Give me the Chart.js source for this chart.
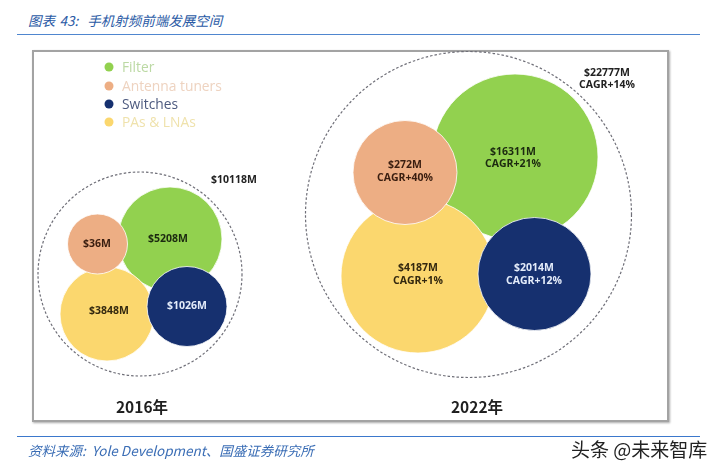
<!DOCTYPE html>
<html>
<head>
<meta charset="utf-8">
<script src="https://cdn.jsdelivr.net/npm/chart.js@4"></script>
<style>
body { margin: 0; background: #fff; width: 722px; height: 470px; overflow: hidden; position: relative; }
div, canvas { position: absolute; }
#title { left: 28px; top: 10px; font: italic 13.5px "Noto Sans CJK SC"; color: #2a5aa5; white-space: pre; word-spacing: 1.5px; }
#topRule { left: 17px; top: 34px; width: 683px; height: 1px; background: #4f86cf; }
#frame { left: 32px; top: 50px; width: 633px; height: 368px; border: 2px solid #a3a3a3; box-shadow: 1px 1px 2px #aaa; background: #fff; }
#chart { left: 0; top: 0; }
#bottomRule { left: 17px; top: 436px; width: 683px; height: 1px; background: #3b78cc; }
#source { left: 28px; top: 440px; font: italic 13.5px "Noto Sans CJK SC"; color: #3a6db5; white-space: pre; }
#mark { left: 571px; top: 435px; font: 19px "Noto Sans CJK SC"; color: #222; white-space: pre; text-shadow: 0 0 2px #fff; }
</style>
</head>
<body>
<div id="title">图表 43:  手机射频前端发展空间</div>
<div id="topRule"></div>
<div id="frame"></div>
<canvas id="chart" width="722" height="470"></canvas>
<div id="bottomRule"></div>
<div id="source">资料来源:  Yole Development、国盛证券研究所</div>
<div id="mark">头条 @未来智库</div>
<script>
const years = ['2016年', '2022年'];
const segments = ['Filter', 'Antenna tuners', 'Switches', 'PAs & LNAs'];

// values, 2016 then 2022 ($M)
const filterValues = [5208, 16311];
const tunerValues = [36, 272];
const switchValues = [1026, 2014];
const paValues = [3848, 4187];
const totalValues = [10118, 22777];

// CAGR, only printed for 2022
const filterCagr = [null, 21];
const tunerCagr = [null, 40];
const switchCagr = [null, 12];
const paCagr = [null, 1];
const totalCagr = [null, 14];

// bubble centres and radii
const filterX = [170, 515], filterY = [239, 157], filterR = [52, 83];
const tunerX = [97.5, 405], tunerY = [244, 172.5], tunerR = [30, 52];
const switchX = [187, 534.5], switchY = [306.5, 274], switchR = [40, 56.5];
const paX = [107, 418], paY = [314, 276], paR = [47, 77];
const totalX = [140, 468.5], totalY = [274, 214.5], totalR = [102, 163];

// where the text sits
const filterTextX = [168, 513], filterTextY = [239, 158.5];
const tunerTextX = [97, 405], tunerTextY = [244, 171.5];
const switchTextX = [187, 534], switchTextY = [306, 274.5];
const paTextX = [109, 418], paTextY = [311, 274.5];
const totalTextX = [234, 607], totalTextY = [180, 79];
const yearTextX = [142, 477], yearTextY = [407, 407];
const legendX = 109, legendY = [67, 86, 104, 122];

const colors = ['#92d14f', '#edae84', '#16306f', '#fbd76e'];
const legendTextColors = ['#bcd9a4', '#eed3c0', '#4d5a7f', '#efe2ac'];
const textColors = ['#1c2a10', '#3a1e10', '#e4ecfa', '#33280f'];

function bubbles(xs, ys, rs) {
    return xs.map((x, i) => ({ x: x, y: ys[i], r: rs[i] }));
}

function segmentDataset(i, xs, ys, rs) {
    return {
        label: segments[i],
        data: bubbles(xs, ys, rs),
        backgroundColor: colors[i],
        borderColor: 'rgba(255,255,255,0.8)',
        borderWidth: 1,
        clip: false
    };
}

// first dataset ends up on top
const datasets = [
    segmentDataset(2, switchX, switchY, switchR),
    segmentDataset(1, tunerX, tunerY, tunerR),
    segmentDataset(3, paX, paY, paR),
    segmentDataset(0, filterX, filterY, filterR),
    {
        label: 'Total',
        data: bubbles(totalX, totalY, totalR),
        backgroundColor: 'rgba(255,255,255,0)',
        borderColor: '#6f6f78',
        borderWidth: 1.2,
        clip: false
    }
];

const dashPlugin = {
    id: 'dash',
    beforeDatasetDraw(chart, args) {
        if (chart.data.datasets[args.index].label === 'Total') chart.ctx.setLineDash([2.5, 2]);
    },
    afterDatasetDraw(chart) {
        chart.ctx.setLineDash([]);
    }
};

function drawText(chart, lines, xVal, yVal, font, color, lineHeight) {
    const ctx = chart.ctx;
    const x = chart.scales.x.getPixelForValue(xVal);
    const y = chart.scales.y.getPixelForValue(yVal);
    ctx.font = font;
    ctx.fillStyle = color;
    ctx.textAlign = 'center';
    ctx.textBaseline = 'middle';
    lines.forEach((line, i) => {
        ctx.fillText(line, x, y + (i - (lines.length - 1) / 2) * lineHeight);
    });
}

function bubbleLines(value, cagr) {
    const lines = ['$' + value + 'M'];
    if (cagr !== null) lines.push('CAGR+' + cagr + '%');
    return lines;
}

const labelPlugin = {
    id: 'labels',
    afterDatasetsDraw(chart) {
        const ctx = chart.ctx;
        const font = 'bold 10.5px "Open Sans"';
        years.forEach((year, i) => {
            drawText(chart, bubbleLines(filterValues[i], filterCagr[i]), filterTextX[i], filterTextY[i], font, textColors[0], 12);
            drawText(chart, bubbleLines(tunerValues[i], tunerCagr[i]), tunerTextX[i], tunerTextY[i], font, textColors[1], 12.5);
            drawText(chart, bubbleLines(switchValues[i], switchCagr[i]), switchTextX[i], switchTextY[i], font, textColors[2], 12.5);
            drawText(chart, bubbleLines(paValues[i], paCagr[i]), paTextX[i], paTextY[i], font, textColors[3], 12.5);
            drawText(chart, bubbleLines(totalValues[i], totalCagr[i]), totalTextX[i], totalTextY[i], font, '#222', 12);
            drawText(chart, [year], yearTextX[i], yearTextY[i], 'bold 15.5px "Noto Sans CJK SC"', '#1f1f1f', 16);
        });

        // legend
        segments.forEach((name, i) => {
            const x = chart.scales.x.getPixelForValue(legendX);
            const y = chart.scales.y.getPixelForValue(legendY[i]);
            ctx.beginPath();
            ctx.arc(x, y, 4.5, 0, Math.PI * 2);
            ctx.fillStyle = colors[i];
            ctx.fill();
            ctx.font = '13.8px "Open Sans"';
            ctx.fillStyle = legendTextColors[i];
            ctx.textAlign = 'left';
            ctx.textBaseline = 'middle';
            ctx.fillText(name, x + 13, y + 1);
        });
    }
};

new Chart(document.getElementById('chart'), {
    type: 'bubble',
    data: { datasets: datasets },
    plugins: [dashPlugin, labelPlugin],
    options: {
        responsive: false,
        animation: false,
        devicePixelRatio: 1,
        layout: { padding: 0, autoPadding: false },
        plugins: { legend: { display: false }, tooltip: { enabled: false } },
        scales: {
            x: { type: 'linear', min: 0, max: 722, display: false },
            y: { type: 'linear', min: 0, max: 470, reverse: true, display: false }
        }
    }
});
</script>
</body>
</html>
